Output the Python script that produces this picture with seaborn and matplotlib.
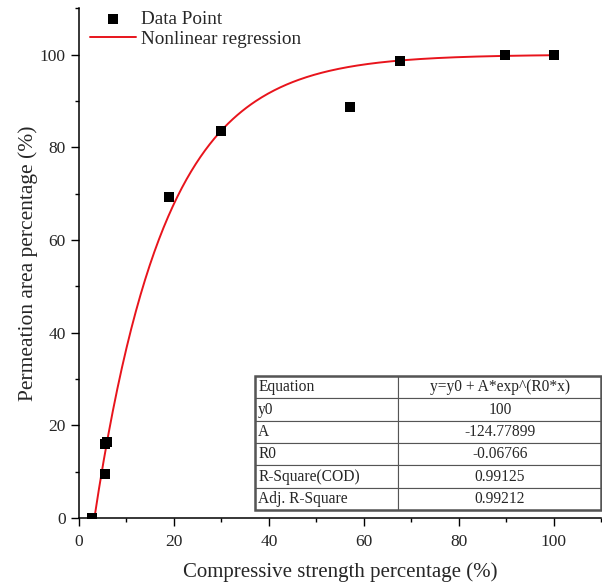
import matplotlib.pyplot as plt
import seaborn as sns
import numpy as np
import pandas as pd
from matplotlib.ticker import MultipleLocator

# Measured points
strength = [2.8, 5.4, 5.5, 6.0, 19.0, 30.0, 57.0, 67.5, 89.7, 100.0]
permeation = [0.0, 9.5, 16.0, 16.3, 69.2, 83.4, 88.7, 98.7, 100.0, 100.0]

# Fitted parameters of y = y0 + A*exp(R0*x), as given in the table
y0, A, R0 = 100, -124.77899, -0.06766
table_rows = [
    ["Equation", "y=y0 + A*exp^(R0*x)"],
    ["y0", "100"],
    ["A", "-124.77899"],
    ["R0", "-0.06766"],
    ["R-Square(COD)", "0.99125"],
    ["Adj. R-Square", "0.99212"],
]

sns.set_theme(style="ticks")
plt.rcParams['font.family'] = ['Liberation Serif', 'DejaVu Serif']

fig = plt.figure(figsize=(6.02, 5.86), dpi=100)
ax = fig.add_axes([0.131, 0.116, 0.868, 0.870])

pts = pd.DataFrame({"x": strength, "y": permeation})
x_fit = np.linspace(3.27, 100, 300)
fit = pd.DataFrame({"x": x_fit, "y": y0 + A * np.exp(R0 * x_fit)})

sns.scatterplot(data=pts, x="x", y="y", ax=ax, marker="s", color="black",
                s=60, edgecolor="black", linewidth=0, label="Data Point", zorder=3)
sns.lineplot(data=fit, x="x", y="y", ax=ax, color="#e8141c", linewidth=1.4,
             label="Nonlinear regression", zorder=2)

ax.set_xlim(0, 110)
ax.set_ylim(0, 110)
ax.xaxis.set_major_locator(MultipleLocator(20))
ax.xaxis.set_minor_locator(MultipleLocator(10))
ax.yaxis.set_major_locator(MultipleLocator(20))
ax.yaxis.set_minor_locator(MultipleLocator(10))
ax.tick_params(which="major", length=6, width=1, labelsize=12.5, color="black")
ax.tick_params(which="minor", length=3, width=1, color="black")
ax.tick_params(axis="x", which="major", pad=5.5)
sns.despine(ax=ax)
for sp in ["left", "bottom"]:
    ax.spines[sp].set_color("black")
    ax.spines[sp].set_linewidth(1.1)

ax.set_xlabel("Compressive strength percentage (%)", fontsize=15, labelpad=9)
ax.set_ylabel("Permeation area percentage (%)", fontsize=15.5, labelpad=1)

leg = ax.legend(loc="upper left", frameon=False, fontsize=13.8,
                bbox_to_anchor=(-0.005, 1.022), handlelength=2.4,
                handletextpad=0.3, borderaxespad=0.3, labelspacing=0.15)

tbl = ax.table(cellText=table_rows, colWidths=[0.413, 0.587],
               bbox=[0.3375, 0.0157, 0.6625, 0.2628])
tbl.auto_set_font_size(False)
tbl.set_fontsize(11.2)
for (r, c), cell in tbl.get_celld().items():
    cell.set_edgecolor("#555555")
    cell.set_linewidth(0.8)
    cell.set_facecolor("white")
    if c == 0:
        cell.set_text_props(ha="left")
        cell.PAD = 0.02
    else:
        cell.set_text_props(ha="center")
tbl.set_zorder(5)

# thicker outer frame around the table
ax.add_patch(plt.Rectangle((0.3375, 0.0157), 0.6625, 0.2628, transform=ax.transAxes,
                           fill=False, edgecolor="#555555", linewidth=1.8,
                           zorder=6, clip_on=False))

plt.savefig("out.png", dpi=100)
plt.close()
